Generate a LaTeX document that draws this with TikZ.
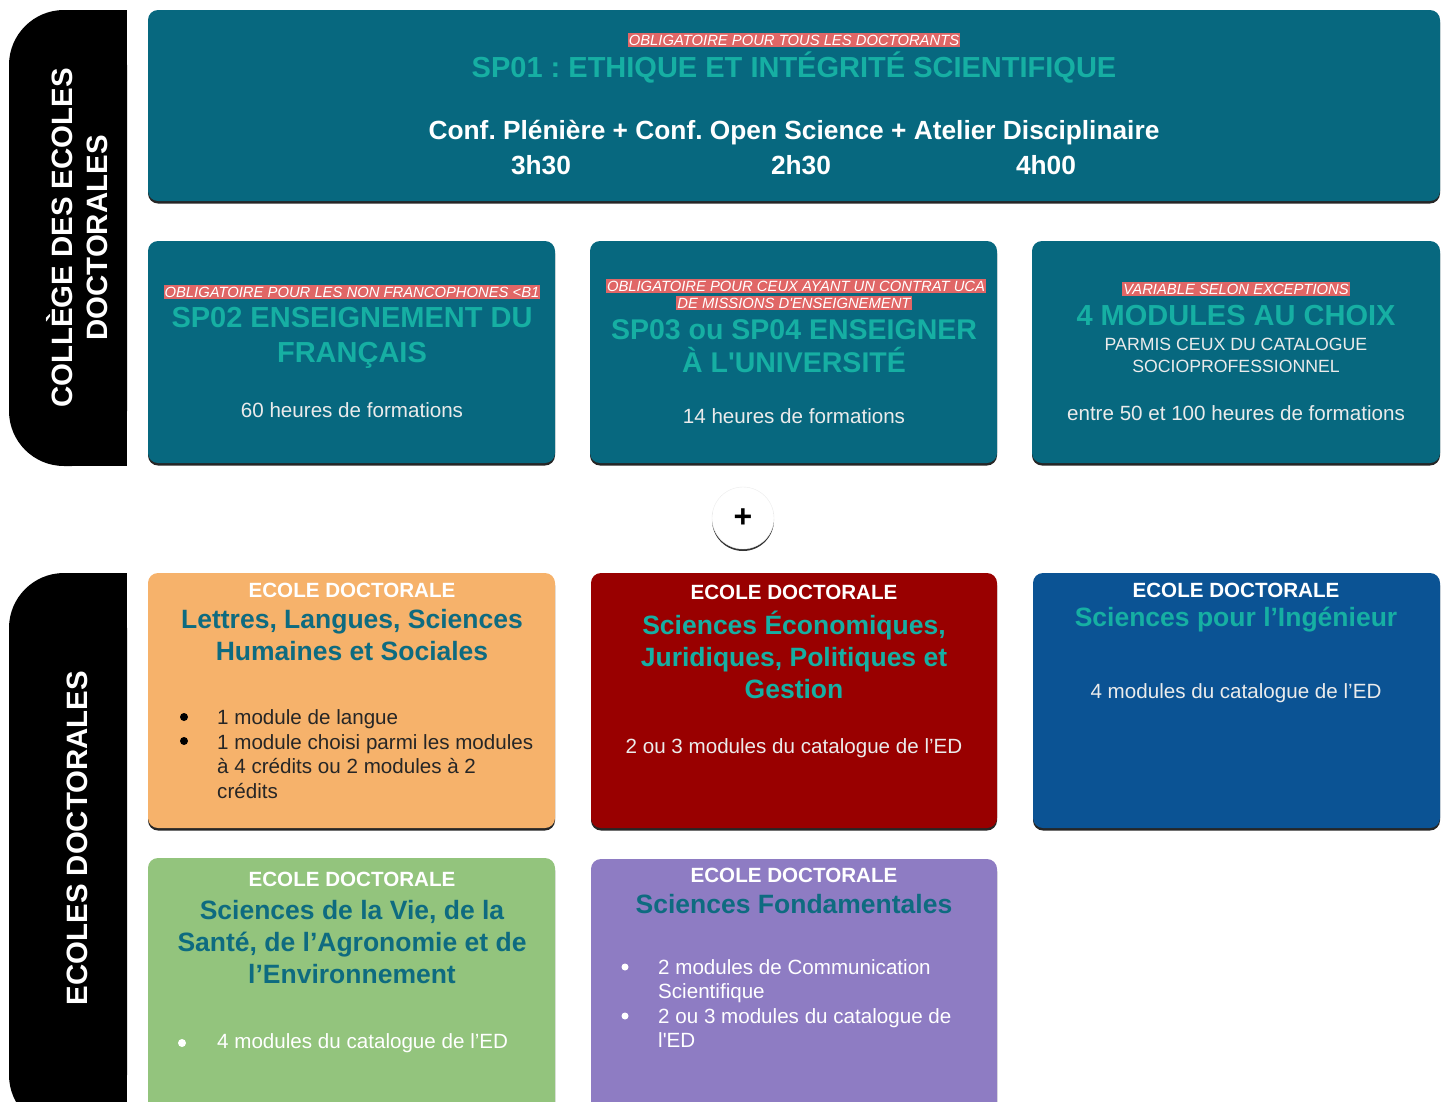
\documentclass[tikz,border=0pt]{standalone}
\usepackage{fontspec}
\setmainfont{Liberation Sans}
\usetikzlibrary{shadows}
\frenchspacing

\definecolor{boxteal}{HTML}{07687F}
\definecolor{lightteal}{HTML}{16AFA3}
\definecolor{deepteal}{HTML}{0E6B80}
\definecolor{tagred}{HTML}{E06666}
\definecolor{edorange}{HTML}{F6B26B}
\definecolor{edred}{HTML}{990000}
\definecolor{edblue}{HTML}{0B5394}
\definecolor{edgreen}{HTML}{93C47D}
\definecolor{edpurple}{HTML}{8E7CC3}

\newcommand{\fsz}[2]{\fontsize{#1}{#2}\selectfont}

\tikzset{
  panel/.style={rectangle, rounded corners=10pt, inner sep=0pt,
    drop shadow={shadow xshift=0pt, shadow yshift=-2.5pt, opacity=0.85, fill=black}},
  tag/.style={fill=tagred, text=white, inner xsep=1pt, inner ysep=1.5pt, font=\fsz{14.8}{17}\itshape},
  sptitle/.style={text=lightteal, align=center, inner sep=0pt, font=\fsz{29}{35}\bfseries},
  bodytext/.style={text=white!92!black, align=center, inner sep=0pt, font=\fsz{20.6}{25}},
  edhead/.style={text=white, inner sep=0pt, font=\fsz{20.6}{24}\bfseries},
  edtitle/.style={align=center, inner sep=0pt, font=\fsz{26.5}{32}\bfseries},
  bullets/.style={anchor=west, align=left, inner sep=0pt, font=\fsz{20.6}{24.5}},
  dot/.style={circle, minimum size=8pt, inner sep=0pt},
  sidetab/.style={text=white, align=center, rotate=90, inner sep=0pt, font=\fsz{29.4}{35}\bfseries},
  hours/.style={text=white, inner sep=0pt, font=\fsz{26.3}{30}\bfseries}
}

\begin{document}
\begin{tikzpicture}[x=1pt,y=-1pt]
\clip[use as bounding box] (0,0) rectangle (1445,1101);

\fill[black, rounded corners=55pt] (9,10) rectangle (127,466);
\fill[black] (70,10) rectangle (127,466);
\node[sidetab] (college) at (77,238) {COLLÈGE DES ECOLES\\DOCTORALES};

\fill[black, rounded corners=55pt] (9,573) rectangle (127,1130);
\fill[black] (70,573) rectangle (127,1130);
\node[sidetab] (ecoles) at (77,838) {ECOLES DOCTORALES};

\node[panel, fill=boxteal, minimum width=1292pt, minimum height=191pt] (sp01) at (794,105.5) {};
\node[tag] (sp01tag) at (794,40) {OBLIGATOIRE POUR TOUS LES DOCTORANTS};
\node[sptitle] (sp01title) at (794,67) {SP01 : ETHIQUE ET INTÉGRITÉ SCIENTIFIQUE};
\node[hours] (sp01conf) at (794,133) {Conf. Plénière + Conf. Open Science + Atelier Disciplinaire};
\node[hours] (t1) at (541,165) {3h30};
\node[hours] (t2) at (801,165) {2h30};
\node[hours] (t3) at (1046,165) {4h00};

\node[panel, fill=boxteal, minimum width=407pt, minimum height=222pt] (sp02) at (351.5,352) {};
\node[tag] (sp02tag) at (352,292) {OBLIGATOIRE POUR LES NON FRANCOPHONES <B1};
\node[sptitle] (sp02title) at (352,338) {SP02 ENSEIGNEMENT DU\\FRANÇAIS};
\node[bodytext] (sp02h) at (352,410) {60 heures de formations};

\node[panel, fill=boxteal, minimum width=407pt, minimum height=222pt] (sp03) at (793.5,352) {};
\node[tag] (sp03tag) at (796,286) {OBLIGATOIRE POUR CEUX AYANT UN CONTRAT UCA};
\node[tag] (sp03tagb) at (794,303) {DE MISSIONS D\textquotesingle ENSEIGNEMENT};
\node[sptitle, font=\fsz{28.5}{33}\bfseries] (sp03title) at (794,346) {SP03 ou SP04 ENSEIGNER\\À L\textquotesingle UNIVERSITÉ};
\node[bodytext] (sp03h) at (794,416) {14 heures de formations};

\node[panel, fill=boxteal, minimum width=408pt, minimum height=222pt] (mods) at (1236,352) {};
\node[tag] (modstag) at (1236,289) {VARIABLE SELON EXCEPTIONS};
\node[sptitle] (modstitle) at (1236,316) {4 MODULES AU CHOIX};
\node[bodytext, font=\fsz{17.7}{22}] (modssub) at (1236,355) {PARMIS CEUX DU CATALOGUE\\SOCIOPROFESSIONNEL};
\node[bodytext] (modsh) at (1236,413) {entre 50 et 100 heures de formations};

\node[circle, fill=white, draw=black!8, minimum size=62pt, inner sep=0pt,
  drop shadow={shadow xshift=0pt, shadow yshift=-2pt, opacity=0.8, fill=black}] (plus) at (743,518) {};
\node[inner sep=0pt, font=\fsz{32}{32}\bfseries] (plussign) at (743,518) {+};

\node[panel, fill=edorange, minimum width=407pt, minimum height=255pt] (lllshs) at (351.5,700.5) {};
\node[edhead] (lllshshead) at (352,590) {ECOLE DOCTORALE};
\node[edtitle, text=deepteal] (lllshstitle) at (352,635) {Lettres, Langues, Sciences\\Humaines et Sociales};
\node[dot, fill=black] (lllshsb1) at (184,717) {};
\node[dot, fill=black] (lllshsb2) at (184,741) {};
\node[bullets, text=black!85] (lllshslist) at (217,754) {1 module de langue\\1 module choisi parmi les modules\\à 4 crédits ou 2 modules à 2\\crédits};

\node[panel, fill=edred, minimum width=406pt, minimum height=255pt] (sejpg) at (794,700.5) {};
\node[edhead] (sejpghead) at (794,592) {ECOLE DOCTORALE};
\node[edtitle, text=lightteal] (sejpgtitle) at (794,655) {Sciences Économiques,\\Juridiques, Politiques et\\Gestion};
\node[bodytext] (sejpgmods) at (794,748) {2 ou 3 modules du catalogue de l’ED};

\node[panel, fill=edblue, minimum width=407pt, minimum height=255pt] (spi) at (1236.5,700.5) {};
\node[edhead] (spihead) at (1236,590) {ECOLE DOCTORALE};
\node[edtitle, text=lightteal] (spititle) at (1236,620) {Sciences pour l’Ingénieur};
\node[bodytext] (spimods) at (1236,693) {4 modules du catalogue de l’ED};

\node[panel, fill=edgreen, minimum width=407pt, minimum height=270pt] (svsae) at (351.5,993) {};
\node[edhead] (svsaehead) at (352,879) {ECOLE DOCTORALE};
\node[edtitle, text=deepteal] (svsaetitle) at (352,942) {Sciences de la Vie, de la\\Santé, de l’Agronomie et de\\l’Environnement};
\node[dot, fill=white] (svsaeb1) at (182,1043) {};
\node[bullets, text=white] (svsaelist) at (217,1043) {4 modules du catalogue de l’ED};

\node[panel, fill=edpurple, minimum width=406pt, minimum height=270pt] (sf) at (794,994) {};
\node[edhead] (sfhead) at (794,875) {ECOLE DOCTORALE};
\node[edtitle, text=deepteal] (sftitle) at (794,904) {Sciences Fondamentales};
\node[dot, fill=white, minimum size=7pt] (sfb1) at (625,967) {};
\node[dot, fill=white, minimum size=7pt] (sfb2) at (625,1016) {};
\node[bullets, text=white] (sflist) at (658,1003.5) {2 modules de Communication\\Scientifique\\2 ou 3 modules du catalogue de\\l\textquotesingle ED};
\end{tikzpicture}
\end{document}
